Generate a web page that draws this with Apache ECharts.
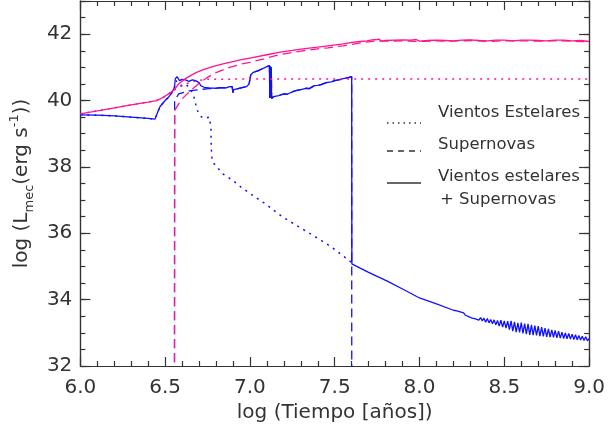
<!DOCTYPE html>
<html><head><meta charset="utf-8">
<script src="https://cdn.jsdelivr.net/npm/echarts@6/dist/echarts.min.js"></script>
<style>html,body{margin:0;padding:0;background:#fff}#c{width:608px;height:436px}</style>
</head><body><div id="c"></div>
<script>
// ---- data (log t [yr], log L_mec [erg/s]) ----
const xTicks = [6.0, 6.5, 7.0, 7.5, 8.0, 8.5, 9.0];
const yTicks = [32, 34, 36, 38, 40, 42];
const legendLabels = ['Vientos Estelares', 'Supernovas', 'Vientos estelares', '+ Supernovas'];
const xTitle = 'log (Tiempo [años])';

// pink model: winds + SN (solid)
const pinkTotal = [[6.0,39.6],[6.1,39.69],[6.2,39.78],[6.3,39.87],[6.4,39.95],[6.45,40.0],[6.49,40.1],[6.52,40.2],[6.555,40.33],[6.58,40.5],[6.61,40.63],[6.65,40.75],[6.685,40.85],[6.73,40.94],[6.78,41.02],[6.83,41.09],[6.88,41.15],[6.95,41.23],[7.0,41.28],[7.1,41.38],[7.17,41.45],[7.25,41.51],[7.3,41.55],[7.4,41.61],[7.46,41.65],[7.55,41.71],[7.6,41.75],[7.65,41.78],[7.69,41.8],[7.72,41.83],[7.75,41.84],[7.765,41.85],[7.77,41.78],[7.78,41.8],[7.8,41.81],[7.85,41.82],[7.9,41.83],[7.95,41.82],[7.98,41.84],[8.0,41.79],[8.05,41.81],[8.1,41.82],[8.15,41.81],[8.2,41.8],[8.25,41.82],[8.3,41.83],[8.35,41.81],[8.4,41.8],[8.45,41.82],[8.5,41.82],[8.55,41.8],[8.6,41.82],[8.65,41.82],[8.7,41.81],[8.75,41.8],[8.8,41.82],[8.85,41.82],[8.9,41.8],[8.95,41.81],[9.0,41.78]];
// pink model: stellar winds only (dotted)
const pinkWinds = [[6.0,39.6],[6.1,39.69],[6.2,39.78],[6.3,39.87],[6.4,39.95],[6.45,40.0],[6.49,40.1],[6.52,40.2],[6.555,40.32],[6.6,40.45],[6.65,40.55],[6.7,40.61],[6.75,40.64],[7.0,40.65],[8.0,40.65],[9.0,40.65]];
// pink model: supernovae only (dashed)
const pinkSN = [[6.555,30],[6.556,39.7],[6.58,39.9],[6.6,40.05],[6.65,40.3],[6.7,40.52],[6.75,40.7],[6.8,40.84],[6.88,41.0],[6.95,41.1],[7.0,41.15],[7.1,41.28],[7.17,41.38],[7.25,41.45],[7.3,41.49],[7.4,41.56],[7.46,41.59],[7.55,41.65],[7.65,41.74],[7.7,41.77],[7.75,41.8],[7.8,41.79],[7.9,41.8],[8.0,41.78],[8.1,41.8],[8.2,41.79],[8.3,41.81],[8.4,41.78],[8.5,41.8],[8.6,41.8],[8.7,41.79],[8.8,41.8],[8.9,41.79],[9.0,41.77]];

// blue model: winds + SN (solid)
const blueTotal = [[6.0,39.57],[6.1,39.56],[6.2,39.54],[6.3,39.5],[6.4,39.46],[6.44,39.44],[6.46,39.7],[6.47,39.82],[6.5,40.0],[6.52,40.1],[6.54,40.24],[6.555,40.4],[6.56,40.65],[6.57,40.72],[6.585,40.6],[6.6,40.64],[6.62,40.62],[6.64,40.58],[6.66,40.62],[6.68,40.6],[6.7,40.54],[6.71,40.45],[6.73,40.4],[6.76,40.38],[6.8,40.37],[6.83,40.39],[6.86,40.38],[6.88,40.42],[6.895,40.42],[6.9,40.24],[6.905,40.33],[6.93,40.36],[6.96,40.4],[6.98,40.42],[6.995,40.5],[7.005,40.78],[7.02,40.85],[7.05,40.9],[7.07,40.95],[7.1,41.02],[7.115,41.05],[7.117,40.08],[7.12,41.04],[7.123,40.08],[7.126,41.0],[7.128,40.06],[7.135,40.1],[7.14,40.12],[7.17,40.15],[7.2,40.2],[7.22,40.19],[7.25,40.26],[7.27,40.3],[7.28,40.27],[7.3,40.33],[7.33,40.37],[7.35,40.36],[7.38,40.45],[7.4,40.46],[7.42,40.48],[7.45,40.54],[7.48,40.56],[7.5,40.6],[7.53,40.63],[7.55,40.66],[7.58,40.69],[7.6,40.72],
  [7.601,35.08],[7.65,34.95],[7.7,34.82],[7.75,34.7],[7.81,34.56],[7.9,34.32],[8.0,34.05],[8.1,33.87],[8.2,33.68],
  [8.21,33.64],[8.22,33.66],[8.23,33.61],[8.24,33.63],[8.25,33.57],[8.26,33.6],[8.27,33.53],[8.28,33.57],[8.29,33.49],[8.3,33.53],
  [8.31,33.44],[8.32,33.5],[8.33,33.42],[8.34,33.47],[8.35,33.38],[8.36,33.46],[8.37,33.36],[8.38,33.44],[8.39,33.32],[8.4,33.43],
  [8.41,33.3],[8.42,33.4],[8.43,33.27],[8.44,33.39],[8.45,33.24],[8.46,33.37],[8.47,33.2],[8.48,33.38],[8.49,33.17],[8.5,33.36],
  [8.51,33.14],[8.52,33.35],[8.53,33.1],[8.54,33.36],[8.55,33.05],[8.56,33.33],[8.57,33.02],[8.58,33.3],[8.59,33.01],[8.6,33.31],
  [8.61,32.98],[8.62,33.28],[8.63,32.96],[8.64,33.27],[8.65,32.94],[8.66,33.24],[8.67,32.93],[8.68,33.22],[8.69,32.92],[8.7,33.2],
  [8.71,32.9],[8.72,33.17],[8.73,32.89],[8.74,33.14],[8.75,32.88],[8.76,33.12],[8.77,32.87],[8.78,33.09],[8.79,32.86],[8.8,33.07],
  [8.81,32.85],[8.82,33.05],[8.83,32.84],[8.84,33.02],[8.85,32.83],[8.86,33.0],[8.87,32.82],[8.88,32.98],[8.89,32.81],[8.9,32.96],
  [8.91,32.8],[8.92,32.94],[8.93,32.79],[8.94,32.92],[8.95,32.78],[8.96,32.9],[8.97,32.77],[8.98,32.88],[8.99,32.76],[9.0,32.83]];
// blue model: stellar winds only (dotted)
const blueWinds = [[6.0,39.57],[6.1,39.56],[6.2,39.54],[6.3,39.5],[6.4,39.46],[6.44,39.44],[6.46,39.7],[6.47,39.82],[6.5,40.0],[6.52,40.1],[6.54,40.24],[6.555,40.4],[6.565,40.6],[6.575,40.5],[6.6,40.45],[6.62,40.5],[6.65,40.35],[6.67,40.1],[6.68,39.9],[6.69,39.7],[6.71,39.52],[6.73,39.46],[6.76,39.5],[6.77,39.2],[6.772,38.6],[6.775,38.3],[6.78,38.15],[6.84,37.79],[6.9,37.59],[6.94,37.42],[7.0,37.2],[7.09,36.89],[7.19,36.5],[7.29,36.19],[7.4,35.85],[7.48,35.59],[7.6,35.12]];
// blue model: supernovae only (dashed) - start segment, then along the total until the drop
const blueSNStart = [[6.555,30],[6.556,40.0],[6.58,40.2],[6.65,40.3],[6.72,40.34],[6.76,40.36]];
const blueSNEnd = [[7.6005,30]];

const PINK = '#ff1493', BLUE = '#1010ff', AX = '#333', FONT = 'DejaVu Sans';
const blueSN = blueSNStart.concat(blueTotal.filter(p => p[0] >= 6.78 && p[0] <= 7.6)).concat(blueSNEnd);

function xAx(pos, labels) {
  return {
    type: 'value', min: 6, max: 9, interval: 0.5, position: pos,
    axisLine: { show: true, onZero: false, lineStyle: { color: AX, width: 1.2 } },
    axisTick: { show: true, inside: true, length: 9, lineStyle: { color: AX, width: 1.2 } },
    minorTick: { show: true, splitNumber: 5, length: 5, lineStyle: { color: AX, width: 1.2 } },
    splitLine: { show: false }, minorSplitLine: { show: false },
    axisLabel: labels ? { show: true, margin: 12, fontSize: 20, fontFamily: FONT, color: AX,
      formatter: v => xTicks.some(t => Math.abs(t - v) < 1e-9) ? v.toFixed(1) : '' } : { show: false },
    name: labels ? xTitle : '', nameLocation: 'middle', nameGap: 36,
    nameTextStyle: { fontSize: 20, fontFamily: FONT, color: AX }
  };
}
function yAx(pos, interval, len, labels) {
  const o = {
    type: 'value', min: 32, max: 43, interval: interval, position: pos, offset: 0,
    axisLine: { show: true, onZero: false, lineStyle: { color: AX, width: 1.2 } },
    axisTick: { show: true, inside: true, length: len, lineStyle: { color: AX, width: 1.2 } },
    splitLine: { show: false },
    axisLabel: labels ? { show: true, margin: 8, fontSize: 20, fontFamily: FONT, color: AX,
      formatter: v => yTicks.indexOf(v) >= 0 ? String(v) : '' } : { show: false }
  };
  if (labels) {
    o.name = '{n|log (L}{sub|mec}{n|(erg s}{sup|-1}{n|))}';
    o.nameLocation = 'middle';
    o.nameRotate = 90;
    o.nameGap = 44;
    o.nameTextStyle = { rich: {
      n: { fontSize: 20, fontFamily: FONT, color: AX, lineHeight: 28 },
      sub: { fontSize: 13, fontFamily: FONT, color: AX, lineHeight: 12, verticalAlign: 'bottom' },
      sup: { fontSize: 13, fontFamily: FONT, color: AX, lineHeight: 12, verticalAlign: 'top' }
    } };
  }
  return o;
}
function ser(data, color, type, width, z) {
  return { type: 'line', data: data, xAxisIndex: 0, yAxisIndex: 0, showSymbol: false, symbol: 'none',
    clip: true, z: z, lineStyle: { color: color, width: width, type: type }, animation: false };
}

const chart = echarts.init(document.getElementById('c'));
chart.setOption({
  animation: false,
  backgroundColor: '#fff',
  grid: { left: 79, right: 11, top: 1, bottom: 70, containLabel: false },
  xAxis: [xAx('bottom', true), xAx('top', false)],
  yAxis: [yAx('left', 2, 10, true), yAx('left', 0.5, 5, false), yAx('right', 2, 10, false), yAx('right', 0.5, 5, false)],
  series: [
    ser(blueSN, BLUE, [9, 5], 1.3, 2),
    ser(blueWinds, BLUE, [2, 5], 1.5, 2),
    ser(blueTotal, BLUE, 'solid', 1.3, 3),
    ser(pinkSN, PINK, [9, 5], 1.3, 4),
    ser(pinkWinds, PINK, [2, 5], 1.5, 4),
    ser(pinkTotal, PINK, 'solid', 1.3, 5)
  ],
  graphic: [
    { type: 'line', shape: { x1: 387, y1: 123, x2: 421, y2: 123 }, style: { stroke: AX, lineWidth: 1.3, lineDash: [1.5, 4] } },
    { type: 'text', x: 438, y: 113, style: { text: legendLabels[0], font: '16.5px "DejaVu Sans"', fill: AX, verticalAlign: 'middle' } },
    { type: 'line', shape: { x1: 387, y1: 151, x2: 421, y2: 151 }, style: { stroke: AX, lineWidth: 1.3, lineDash: [6, 5] } },
    { type: 'text', x: 438, y: 145, style: { text: legendLabels[1], font: '16.5px "DejaVu Sans"', fill: AX, verticalAlign: 'middle' } },
    { type: 'line', shape: { x1: 387, y1: 183, x2: 421, y2: 183 }, style: { stroke: AX, lineWidth: 1.3 } },
    { type: 'text', x: 438, y: 177, style: { text: legendLabels[2], font: '16.5px "DejaVu Sans"', fill: AX, verticalAlign: 'middle' } },
    { type: 'text', x: 440, y: 200, style: { text: legendLabels[3], font: '16.5px "DejaVu Sans"', fill: AX, verticalAlign: 'middle' } }
  ]
});
</script>
</body></html>
